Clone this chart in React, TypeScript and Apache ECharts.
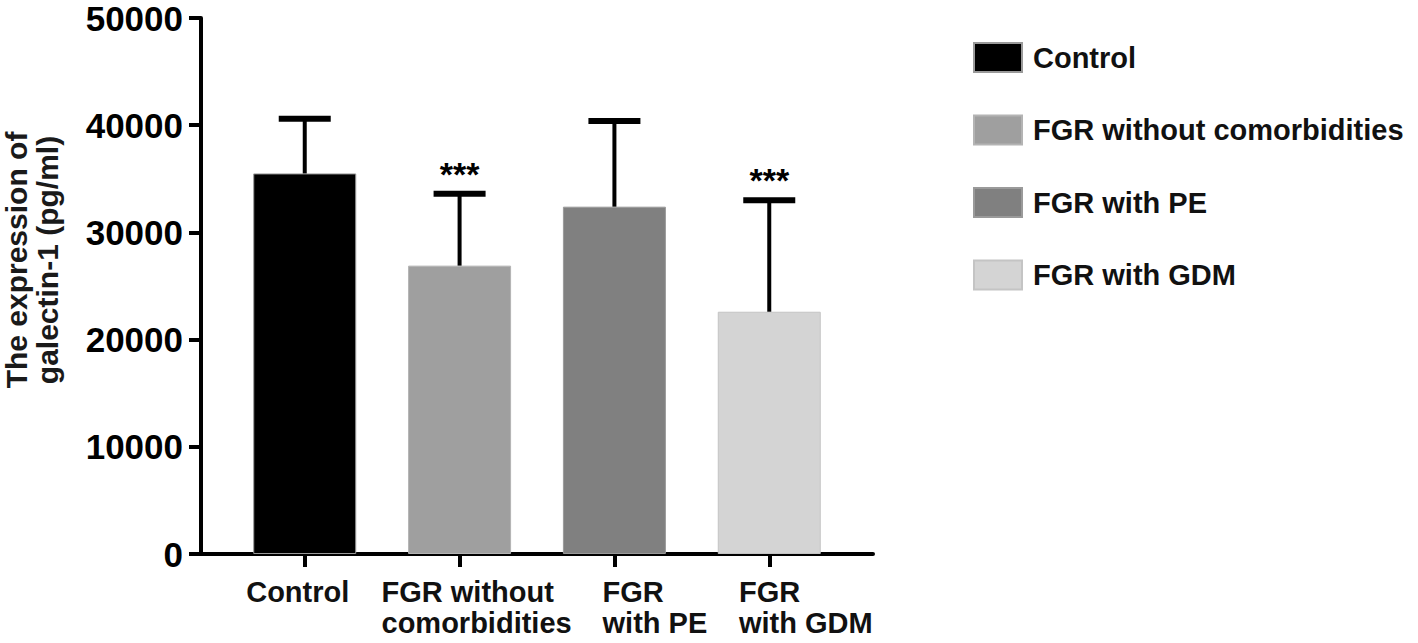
import React, { useEffect, useRef } from "react";
import * as echarts from "echarts";

const categories = ["Control", "FGR without comorbidities", "FGR with PE", "FGR with GDM"];
const axisLabels = ["Control", "FGR without\ncomorbidities", "FGR\nwith PE", "FGR\nwith GDM"];
const means = [35500, 26900, 32400, 22600];
const errorUpper = [40600, 33600, 40400, 33000];
const significance = ["", "***", "", "***"];
const barColors = ["#000000", "#9f9f9f", "#808080", "#d4d4d4"];
const barBorders = ["#9a9a9a", "#b4b4b4", "#9a9a9a", "#c4c4c4"];
const labelPaddings = [
  [0, 14, 0, 0],
  [0, 0, 0, 34],
  [0, 0, 0, 81],
  [0, 0, 0, 73],
];

const FONT = "'Liberation Sans', Arial, sans-serif";

export default function App() {
  const ref = useRef<HTMLDivElement>(null);

  useEffect(() => {
    if (!ref.current) return;
    const chart = echarts.init(ref.current, undefined, { renderer: "svg" });

    const rich: Record<string, any> = {};
    labelPaddings.forEach((p, i) => {
      rich["c" + i] = {
        fontSize: 29,
        fontWeight: "bold",
        fontFamily: FONT,
        color: "#111",
        lineHeight: 31,
        align: "left",
        padding: p,
      };
    });

    const barSeries = categories.map((name, i) => ({
      name,
      type: "bar",
      xAxisIndex: 0,
      barWidth: 103,
      barGap: "-100%",
      itemStyle: { color: barColors[i], borderColor: barBorders[i], borderWidth: 1 },
      data: [[i, means[i]]],
      z: 2,
    }));

    const errData = means.map((m, i) => [i, m, errorUpper[i]]);

    // two overlapping bottom axes so that shifted labels never collide within one axis
    const makeXAxis = (values: number[], showLine: boolean) => ({
      type: "value",
      position: "bottom",
      min: -0.67,
      max: 3.67,
      splitLine: { show: false },
      axisLine: { show: showLine, onZero: false, lineStyle: { color: "#000", width: 4 } },
      axisTick: {
        show: true,
        customValues: values,
        length: 13,
        lineStyle: { color: "#000", width: 4 },
      },
      axisLabel: {
        show: true,
        customValues: values,
        showMinLabel: true,
        showMaxLabel: true,
        hideOverlap: false,
        margin: 22,
        formatter: (v: number) => {
          const i = Math.round(v);
          return "{c" + i + "|" + axisLabels[i] + "}";
        },
        rich,
      },
    });

    const option: any = {
      animation: false,
      backgroundColor: "#ffffff",
      grid: { left: 200, top: 18, right: 545, bottom: 89, containLabel: false },
      legend: {
        data: categories,
        orient: "vertical",
        left: 973,
        top: 42,
        padding: 0,
        itemWidth: 48,
        itemHeight: 29,
        itemGap: 41.5,
        icon: "rect",
        selectedMode: false,
        textStyle: {
          fontSize: 29,
          fontWeight: "bold",
          fontFamily: FONT,
          color: "#111",
          padding: [0, 0, 0, 6],
        },
      },
      xAxis: [makeXAxis([0, 2], true), makeXAxis([1, 3], false)],
      yAxis: {
        type: "value",
        min: 0,
        max: 50000,
        interval: 10000,
        splitLine: { show: false },
        axisLine: { show: true, onZero: false, lineStyle: { color: "#000", width: 4 } },
        axisTick: { show: true, length: 12, lineStyle: { color: "#000", width: 4 } },
        axisLabel: {
          margin: 18,
          fontSize: 35,
          fontWeight: "bold",
          fontFamily: FONT,
          color: "#000",
          formatter: (v: number) => String(v),
        },
        name: "The expression of\ngalectin-1 (pg/ml)",
        nameLocation: "middle",
        nameRotate: 90,
        nameGap: 138,
        nameTextStyle: {
          fontSize: 30,
          fontWeight: "bold",
          fontFamily: FONT,
          color: "#1a1a1a",
          lineHeight: 31,
          padding: [0, 0, 0, 52],
        },
      },
      series: [
        ...barSeries,
        {
          name: "error",
          type: "custom",
          xAxisIndex: 0,
          z: 5,
          encode: { x: 0, y: [1, 2] },
          data: errData,
          renderItem: (params: any, api: any) => {
            const x = api.value(0);
            const top = api.coord([x, api.value(1)]);
            const up = api.coord([x, api.value(2)]);
            const idx = params.dataIndex;
            const children: any[] = [
              {
                type: "line",
                shape: { x1: top[0], y1: top[1], x2: up[0], y2: up[1] },
                style: { stroke: "#000", lineWidth: 4 },
              },
              {
                type: "line",
                shape: { x1: up[0] - 26, y1: up[1], x2: up[0] + 26, y2: up[1] },
                style: { stroke: "#000", lineWidth: 6 },
              },
            ];
            if (significance[idx]) {
              children.push({
                type: "text",
                x: up[0],
                y: up[1] - 20,
                style: {
                  text: significance[idx],
                  fill: "#000",
                  fontSize: 34,
                  fontWeight: "bold",
                  fontFamily: FONT,
                  align: "center",
                  verticalAlign: "middle",
                },
              });
            }
            return { type: "group", children };
          },
        },
      ],
    };

    chart.setOption(option);
    return () => chart.dispose();
  }, []);

  return (
    <div
      ref={ref}
      style={{ position: "fixed", left: 0, top: 0, width: 1418, height: 643, background: "#fff" }}
    />
  );
}
